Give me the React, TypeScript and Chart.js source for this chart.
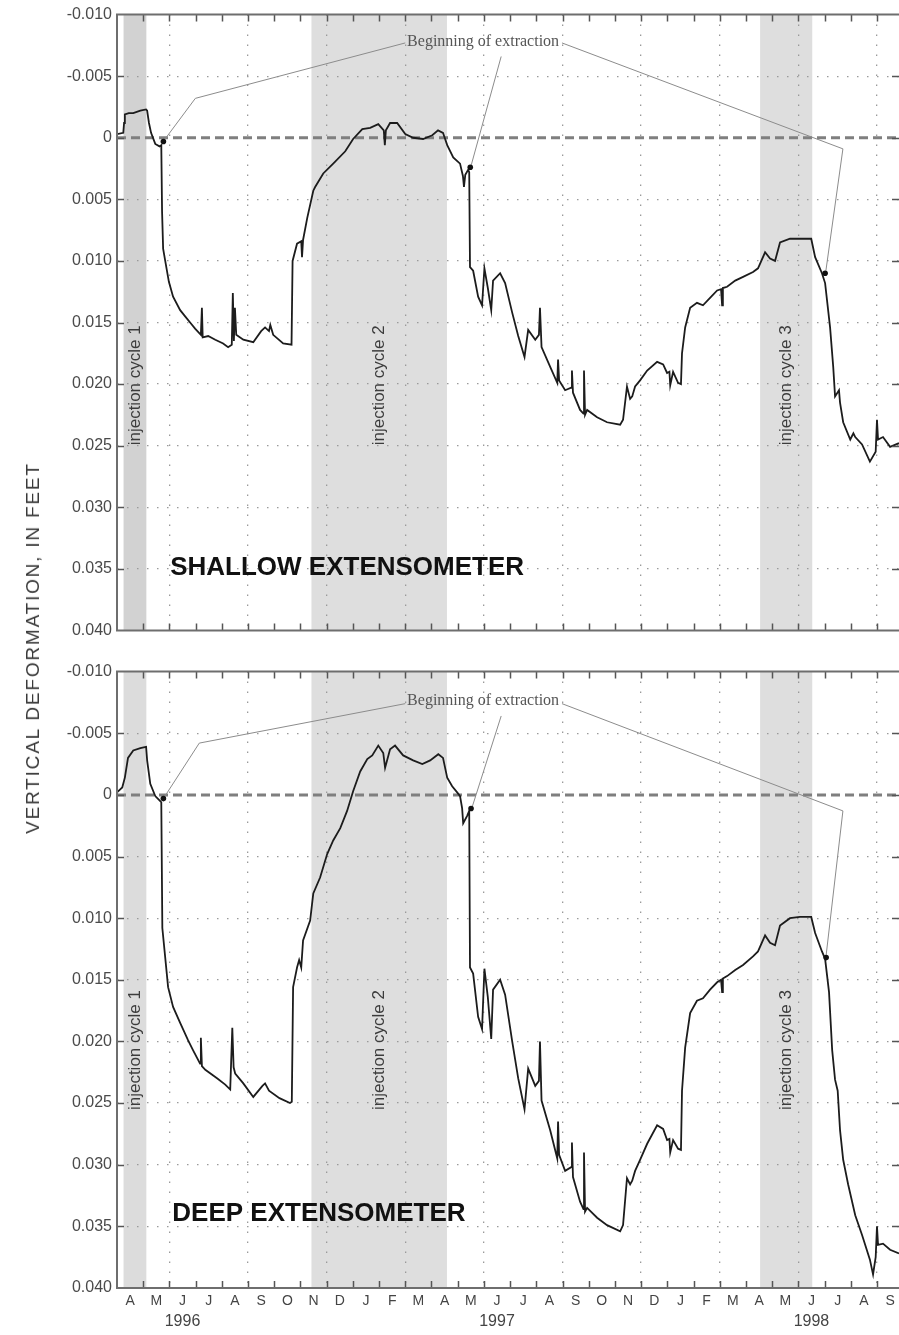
import React, { useEffect, useRef } from 'react';
import { Chart, registerables } from 'chart.js';

Chart.register(...registerables);

// Horizontal axis: months elapsed since 1 April 1996
const X_MAX = 29.84;
const monthLetters = [
  'A', 'M', 'J', 'J', 'A', 'S', 'O', 'N', 'D', 'J', 'F', 'M',
  'A', 'M', 'J', 'J', 'A', 'S', 'O', 'N', 'D', 'J', 'F', 'M',
  'A', 'M', 'J', 'J', 'A', 'S',
];
const yearLabels = ['1996', '1997', '1998'];
const yearLabelMonths = [2.5, 14.5, 26.5];

// Vertical axis: deformation in feet (positive = compaction, drawn downward)
const Y_MIN = -0.01;
const Y_MAX = 0.04;
const Y_STEP = 0.005;

const injectionCycles: [number, number][] = [
  [0.25, 1.12],
  [7.42, 12.59],
  [24.54, 26.53],
];
const injectionLabels = ['injection cycle 1', 'injection cycle 2', 'injection cycle 3'];

// [months since Apr 1996, feet]
const shallowSeries: [number, number][] = [
  [0.0, -0.0003], [0.24, -0.0004], [0.27, -0.0012], [0.3, -0.0019], [0.45, -0.002],
  [0.62, -0.002], [0.89, -0.0022], [1.11, -0.0023], [1.15, -0.0022], [1.22, -0.0012],
  [1.3, -0.0004], [1.46, 0.0005], [1.62, 0.0007], [1.69, 0.0006], [1.72, 0.006],
  [1.76, 0.009], [1.84, 0.01], [1.98, 0.0117], [2.14, 0.0129], [2.41, 0.014],
  [2.6, 0.0145], [2.79, 0.015], [2.98, 0.0155], [3.2, 0.016], [3.24, 0.0138],
  [3.27, 0.0162], [3.48, 0.0161], [3.75, 0.0164], [4.05, 0.0167], [4.24, 0.017],
  [4.38, 0.0168], [4.42, 0.0126], [4.46, 0.0165], [4.5, 0.0138], [4.55, 0.016],
  [4.82, 0.0164], [5.2, 0.0166], [5.5, 0.0157], [5.65, 0.0154], [5.8, 0.0157],
  [5.85, 0.0152], [5.96, 0.016], [6.34, 0.0167], [6.66, 0.0168], [6.7, 0.01],
  [6.87, 0.0086], [7.03, 0.0084], [7.06, 0.0097], [7.1, 0.0083], [7.26, 0.0065],
  [7.49, 0.0043], [7.56, 0.004], [7.87, 0.0029], [8.25, 0.0021], [8.71, 0.0011],
  [9.01, 0.0001], [9.36, -0.0007], [9.66, -0.0008], [9.97, -0.0011], [10.18, -0.0006],
  [10.22, 0.0006], [10.26, -0.0006], [10.42, -0.0012], [10.69, -0.0012], [11.0, -0.0003],
  [11.3, 0.0], [11.68, 0.0001], [12.03, -0.0002], [12.25, -0.0006], [12.44, -0.0004],
  [12.6, 0.0006], [12.83, 0.0016], [13.09, 0.0021], [13.2, 0.0031], [13.24, 0.004],
  [13.29, 0.003], [13.4, 0.0026], [13.44, 0.0028], [13.47, 0.0105], [13.59, 0.0108],
  [13.78, 0.0129], [13.93, 0.0136], [14.02, 0.0106], [14.15, 0.0122], [14.28, 0.014],
  [14.35, 0.0116], [14.62, 0.011], [14.81, 0.0118], [15.08, 0.0142], [15.31, 0.0161],
  [15.55, 0.0178], [15.69, 0.0156], [15.96, 0.0164], [16.1, 0.016], [16.14, 0.0138],
  [16.2, 0.017], [16.53, 0.0186], [16.8, 0.0199], [16.83, 0.018], [16.87, 0.0197],
  [17.1, 0.0205], [17.33, 0.0203], [17.36, 0.0189], [17.4, 0.0207], [17.67, 0.0221],
  [17.8, 0.0224], [17.82, 0.0189], [17.86, 0.0225], [17.94, 0.0221], [18.32, 0.0227],
  [18.7, 0.0231], [19.2, 0.0233], [19.31, 0.0229], [19.46, 0.0202], [19.58, 0.0212],
  [19.66, 0.021], [19.77, 0.0202], [19.96, 0.0197], [20.23, 0.0189], [20.61, 0.0182],
  [20.84, 0.0184], [20.99, 0.0191], [21.08, 0.019], [21.11, 0.0201], [21.22, 0.019],
  [21.41, 0.0199], [21.52, 0.02], [21.56, 0.0175], [21.68, 0.0154], [21.87, 0.0138],
  [22.13, 0.0134], [22.36, 0.0136], [22.63, 0.013], [22.9, 0.0124], [23.05, 0.0123],
  [23.09, 0.0136], [23.12, 0.0122], [23.28, 0.0121], [23.59, 0.0116], [23.89, 0.0113],
  [24.27, 0.0109], [24.46, 0.0106], [24.73, 0.0093], [24.92, 0.0098], [25.11, 0.01],
  [25.3, 0.0085], [25.68, 0.0082], [26.06, 0.0082], [26.49, 0.0082], [26.64, 0.0097],
  [26.9, 0.011], [27.02, 0.0118], [27.21, 0.0154], [27.33, 0.0186], [27.4, 0.021],
  [27.55, 0.0205], [27.59, 0.0215], [27.71, 0.0231], [27.98, 0.0245], [28.1, 0.024],
  [28.17, 0.0243], [28.43, 0.0249], [28.73, 0.0263], [28.95, 0.0255], [29.0, 0.0229],
  [29.04, 0.0245], [29.23, 0.0243], [29.5, 0.0251], [29.84, 0.0248],
];

const deepSeries: [number, number][] = [
  [0.0, -0.0002], [0.2, -0.0006], [0.3, -0.0014], [0.42, -0.003], [0.62, -0.0036],
  [0.89, -0.0038], [1.11, -0.0039], [1.15, -0.0028], [1.27, -0.0009], [1.46, 0.0001],
  [1.65, 0.0005], [1.69, 0.0006], [1.73, 0.0108], [1.95, 0.0156], [2.14, 0.0172],
  [2.41, 0.0185], [2.71, 0.0199], [2.9, 0.0207], [3.17, 0.0218], [3.2, 0.0197],
  [3.24, 0.022], [3.37, 0.0223], [3.83, 0.023], [4.13, 0.0235], [4.32, 0.0239],
  [4.4, 0.0189], [4.45, 0.0221], [4.51, 0.0226], [4.82, 0.0234], [5.2, 0.0245],
  [5.55, 0.0236], [5.65, 0.0234], [5.8, 0.024], [6.2, 0.0246], [6.6, 0.025],
  [6.67, 0.0249], [6.72, 0.0156], [6.87, 0.014], [6.95, 0.0134], [7.03, 0.014],
  [7.1, 0.0118], [7.37, 0.0102], [7.49, 0.008], [7.75, 0.0067], [8.02, 0.0048],
  [8.25, 0.0037], [8.52, 0.0027], [8.78, 0.0013], [9.01, -0.0003], [9.28, -0.0019],
  [9.55, -0.0029], [9.74, -0.0032], [9.97, -0.004], [10.16, -0.0034], [10.23, -0.0022],
  [10.42, -0.0037], [10.61, -0.004], [10.92, -0.0032], [11.3, -0.0028], [11.65, -0.0025],
  [11.95, -0.0028], [12.26, -0.0033], [12.44, -0.003], [12.6, -0.0014], [12.79, -0.0007],
  [12.98, -0.0002], [13.09, 0.0001], [13.17, 0.0011], [13.21, 0.0023], [13.36, 0.0017],
  [13.44, 0.0013], [13.47, 0.014], [13.59, 0.0145], [13.78, 0.018], [13.93, 0.019],
  [14.02, 0.0141], [14.15, 0.0164], [14.28, 0.0198], [14.35, 0.0158], [14.62, 0.015],
  [14.81, 0.0162], [15.08, 0.02], [15.31, 0.023], [15.55, 0.0255], [15.69, 0.0222],
  [15.96, 0.0236], [16.1, 0.0232], [16.14, 0.02], [16.2, 0.0248], [16.53, 0.0272],
  [16.8, 0.0295], [16.83, 0.0265], [16.87, 0.0292], [17.1, 0.0305], [17.33, 0.0302],
  [17.36, 0.0282], [17.4, 0.031], [17.67, 0.033], [17.8, 0.0336], [17.82, 0.029],
  [17.86, 0.0338], [17.94, 0.0335], [18.32, 0.0343], [18.7, 0.0349], [19.2, 0.0354],
  [19.31, 0.0349], [19.46, 0.0311], [19.58, 0.0316], [19.66, 0.0313], [19.77, 0.0305],
  [19.96, 0.0296], [20.23, 0.0283], [20.61, 0.0268], [20.84, 0.0271], [20.99, 0.028],
  [21.08, 0.0279], [21.11, 0.029], [21.22, 0.028], [21.41, 0.0287], [21.52, 0.0288],
  [21.56, 0.024], [21.68, 0.0205], [21.87, 0.0177], [22.13, 0.0167], [22.36, 0.0165],
  [22.63, 0.0158], [22.9, 0.0152], [23.05, 0.015], [23.09, 0.016], [23.12, 0.0149],
  [23.28, 0.0147], [23.59, 0.0142], [23.89, 0.0138], [24.27, 0.0131], [24.46, 0.0127],
  [24.73, 0.0114], [24.92, 0.012], [25.11, 0.0122], [25.3, 0.0106], [25.68, 0.01],
  [26.06, 0.0099], [26.49, 0.0099], [26.64, 0.0112], [26.9, 0.0127], [27.02, 0.0133],
  [27.17, 0.016], [27.29, 0.0207], [27.4, 0.0231], [27.5, 0.024], [27.59, 0.0272],
  [27.71, 0.0296], [27.9, 0.0316], [28.17, 0.0341], [28.43, 0.0357], [28.73, 0.0377],
  [28.85, 0.0389], [28.95, 0.0375], [29.0, 0.035], [29.04, 0.0365], [29.23, 0.0364],
  [29.5, 0.0369], [29.84, 0.0372],
];

// Start of each extraction period
const shallowExtractionStarts: [number, number][] = [[1.77, 0.0003], [13.48, 0.0024], [27.02, 0.011]];
const deepExtractionStarts: [number, number][] = [[1.77, 0.0003], [13.51, 0.0011], [27.06, 0.0132]];

// Leader lines from the "Beginning of extraction" note to each start
const shallowLeaders: [number, number][][] = [
  [[11.0, -0.0077], [2.99, -0.0032], [1.8, 0.0002]],
  [[14.66, -0.0066], [13.52, 0.0022]],
  [[16.98, -0.0077], [27.7, 0.0009], [27.05, 0.0108]],
];
const deepLeaders: [number, number][][] = [
  [[11.0, -0.0074], [3.14, -0.0042], [1.8, 0.0002]],
  [[14.66, -0.0064], [13.55, 0.001]],
  [[16.98, -0.0074], [27.7, 0.0013], [27.06, 0.013]],
];

const SANS = '"Liberation Sans", Arial, sans-serif';
const SERIF = '"Liberation Serif", "Times New Roman", serif';
const GRID = '#9a9a9a';

type PanelSpec = {
  title: string;
  series: [number, number][];
  starts: [number, number][];
  leaders: [number, number][][];
  cycleFills: string[];
  titleAt: [number, number];
  noteAt: [number, number];
  cycleLabelY: number;
  showMonths: boolean;
  canvasHeight: number;
};

const panels: PanelSpec[] = [
  {
    title: 'SHALLOW EXTENSOMETER',
    series: shallowSeries,
    starts: shallowExtractionStarts,
    leaders: shallowLeaders,
    cycleFills: ['#d2d2d2', '#dedede', '#dedede'],
    titleAt: [2.03, 0.0349],
    noteAt: [13.97, -0.0078],
    cycleLabelY: 0.0201,
    showMonths: false,
    canvasHeight: 645,
  },
  {
    title: 'DEEP EXTENSOMETER',
    series: deepSeries,
    starts: deepExtractionStarts,
    leaders: deepLeaders,
    cycleFills: ['#dcdcdc', '#dedede', '#dedede'],
    titleAt: [2.11, 0.034],
    noteAt: [13.97, -0.0076],
    cycleLabelY: 0.0207,
    showMonths: true,
    canvasHeight: 678,
  },
];

const toPoints = (arr: [number, number][]) => arr.map(([x, y]) => ({ x, y }));

function buildConfig(p: PanelSpec): any {
  const decor = {
    id: 'panelDecor',
    beforeDraw(chart: any) {
      const { ctx, chartArea: a, scales } = chart;
      const x = scales.x;
      ctx.save();
      ctx.fillStyle = '#ffffff';
      ctx.fillRect(0, 0, chart.width, chart.height);
      injectionCycles.forEach(([s, e], i) => {
        const x0 = x.getPixelForValue(s);
        const x1 = x.getPixelForValue(e);
        ctx.fillStyle = p.cycleFills[i];
        ctx.fillRect(x0, a.top, x1 - x0, a.bottom - a.top);
      });
      ctx.restore();
    },
    beforeDatasetsDraw(chart: any) {
      const { ctx, scales } = chart;
      const x = scales.x;
      const y = scales.y;
      ctx.save();
      ctx.fillStyle = '#3c3c3c';
      ctx.font = `17px ${SANS}`;
      ctx.textAlign = 'center';
      ctx.textBaseline = 'middle';
      injectionCycles.forEach(([s, e], i) => {
        const cx = x.getPixelForValue((s + e) / 2);
        const cy = y.getPixelForValue(p.cycleLabelY);
        ctx.save();
        ctx.translate(cx, cy);
        ctx.rotate(-Math.PI / 2);
        ctx.fillText(injectionLabels[i], 0, 0);
        ctx.restore();
      });
      ctx.fillStyle = '#111111';
      ctx.font = `bold 26px ${SANS}`;
      ctx.textAlign = 'left';
      ctx.fillText(p.title, x.getPixelForValue(p.titleAt[0]), y.getPixelForValue(p.titleAt[1]));
      ctx.restore();
    },
    afterDatasetsDraw(chart: any) {
      const { ctx, scales } = chart;
      ctx.save();
      ctx.fillStyle = '#555555';
      ctx.font = `16px ${SERIF}`;
      ctx.textAlign = 'center';
      ctx.textBaseline = 'middle';
      ctx.fillText(
        'Beginning of extraction',
        scales.x.getPixelForValue(p.noteAt[0]),
        scales.y.getPixelForValue(p.noteAt[1]),
      );
      ctx.restore();
    },
    afterDraw(chart: any) {
      const { ctx, chartArea: a, scales } = chart;
      const x = scales.x;
      const y = scales.y;
      ctx.save();
      // tick marks pointing into the plot on all four sides
      ctx.strokeStyle = '#555555';
      ctx.lineWidth = 1.5;
      ctx.beginPath();
      for (let m = 1; m < X_MAX; m++) {
        const px = Math.round(x.getPixelForValue(m)) + 0.5;
        ctx.moveTo(px, a.top);
        ctx.lineTo(px, a.top + 7);
        ctx.moveTo(px, a.bottom);
        ctx.lineTo(px, a.bottom - 7);
      }
      for (let v = Y_MIN + Y_STEP; v < Y_MAX - 1e-9; v += Y_STEP) {
        const py = Math.round(y.getPixelForValue(v)) + 0.5;
        ctx.moveTo(a.left, py);
        ctx.lineTo(a.left + 7, py);
        ctx.moveTo(a.right, py);
        ctx.lineTo(a.right - 7, py);
      }
      ctx.stroke();
      // frame
      ctx.strokeStyle = '#6e6e6e';
      ctx.lineWidth = 2;
      ctx.beginPath();
      ctx.moveTo(a.right, a.top);
      ctx.lineTo(a.left, a.top);
      ctx.lineTo(a.left, a.bottom);
      ctx.lineTo(a.right, a.bottom);
      ctx.stroke();
      if (p.showMonths) {
        ctx.fillStyle = '#444444';
        ctx.font = `16px ${SANS}`;
        ctx.textAlign = 'center';
        ctx.textBaseline = 'middle';
        yearLabels.forEach((label, i) => {
          ctx.fillText(label, x.getPixelForValue(yearLabelMonths[i]), a.bottom + 34);
        });
      }
      ctx.restore();
    },
  };

  const datasets: any[] = [
    {
      data: toPoints(p.starts),
      showLine: false,
      pointRadius: 2.8,
      pointBackgroundColor: '#111111',
      pointBorderWidth: 0,
      order: 0,
    },
    {
      data: toPoints(p.series),
      borderColor: '#1c1c1c',
      borderWidth: 1.8,
      pointRadius: 0,
      tension: 0,
      order: 1,
    },
    ...p.leaders.map((l) => ({
      data: toPoints(l),
      borderColor: '#8c8c8c',
      borderWidth: 1,
      pointRadius: 0,
      tension: 0,
      order: 2,
    })),
    {
      data: [{ x: 0, y: 0 }, { x: X_MAX, y: 0 }],
      borderColor: '#7f7f7f',
      borderWidth: 3,
      borderDash: [9, 5],
      pointRadius: 0,
      order: 3,
    },
  ];

  return {
    type: 'line',
    data: { datasets },
    options: {
      animation: false,
      responsive: false,
      events: [],
      layout: {
        autoPadding: false,
        padding: { top: 13, right: 0, bottom: p.showMonths ? 0 : 14, left: 0 },
      },
      plugins: { legend: { display: false }, tooltip: { enabled: false } },
      scales: {
        x: {
          type: 'linear',
          min: 0,
          max: X_MAX,
          afterBuildTicks: (s: any) => {
            const t: any[] = [];
            for (let i = 0; i < 30; i++) {
              t.push({ value: i });
              if (p.showMonths) t.push({ value: i + 0.5 });
            }
            s.ticks = t;
          },
          afterFit: (s: any) => {
            s.height = p.showMonths ? 47 : 0;
            s.paddingLeft = 0;
            s.paddingRight = 0;
          },
          ticks: {
            display: p.showMonths,
            autoSkip: false,
            maxRotation: 0,
            minRotation: 0,
            padding: 5,
            color: '#444444',
            font: { family: SANS, size: 14 },
            callback: (v: number) => (Number.isInteger(v) ? '' : monthLetters[Math.floor(v)]),
          },
          grid: {
            drawTicks: false,
            lineWidth: 1.3,
            color: (c: any) => {
              const v = c.tick ? c.tick.value : -1;
              return Number.isInteger(v) && v % 3 === 2 ? GRID : 'rgba(0,0,0,0)';
            },
          },
          border: { display: false, dash: [1.5, 8.5] },
        },
        y: {
          type: 'linear',
          reverse: true,
          min: Y_MIN,
          max: Y_MAX,
          afterFit: (s: any) => {
            s.width = 117;
          },
          ticks: {
            stepSize: Y_STEP,
            padding: 5,
            color: '#4a4a4a',
            font: { family: SANS, size: 16 },
            callback: (v: number) => (Math.abs(v) < 1e-9 ? '0' : v.toFixed(3)),
          },
          grid: {
            drawTicks: false,
            lineWidth: 1.3,
            color: (c: any) => {
              const v = c.tick ? c.tick.value : 0;
              if (Math.abs(v) < 1e-9 || v < Y_MIN + 1e-6 || v > Y_MAX - 1e-6) return 'rgba(0,0,0,0)';
              return GRID;
            },
          },
          border: { display: false, dash: [1.5, 8.5] },
        },
      },
    },
    plugins: [decor],
  };
}

export default function App() {
  const topRef = useRef<HTMLCanvasElement>(null);
  const bottomRef = useRef<HTMLCanvasElement>(null);

  useEffect(() => {
    const charts: Chart[] = [];
    [topRef.current, bottomRef.current].forEach((canvas, i) => {
      if (canvas) charts.push(new Chart(canvas, buildConfig(panels[i])));
    });
    return () => charts.forEach((c) => c.destroy());
  }, []);

  return (
    <div style={{ position: 'absolute', left: 0, top: 0, width: 899, height: 1335, background: '#ffffff', overflow: 'hidden' }}>
      <canvas
        ref={topRef}
        width={899}
        height={panels[0].canvasHeight}
        style={{ position: 'absolute', left: 0, top: 0, width: 899, height: panels[0].canvasHeight }}
      />
      <canvas
        ref={bottomRef}
        width={899}
        height={panels[1].canvasHeight}
        style={{ position: 'absolute', left: 0, top: 657, width: 899, height: panels[1].canvasHeight }}
      />
      <div
        style={{
          position: 'absolute',
          left: 33,
          top: 648,
          transform: 'translate(-50%, -50%) rotate(-90deg)',
          whiteSpace: 'nowrap',
          fontFamily: SANS,
          fontSize: 19,
          letterSpacing: 1.8,
          color: '#3a3a3a',
        }}
      >
        VERTICAL DEFORMATION, IN FEET
      </div>
    </div>
  );
}
